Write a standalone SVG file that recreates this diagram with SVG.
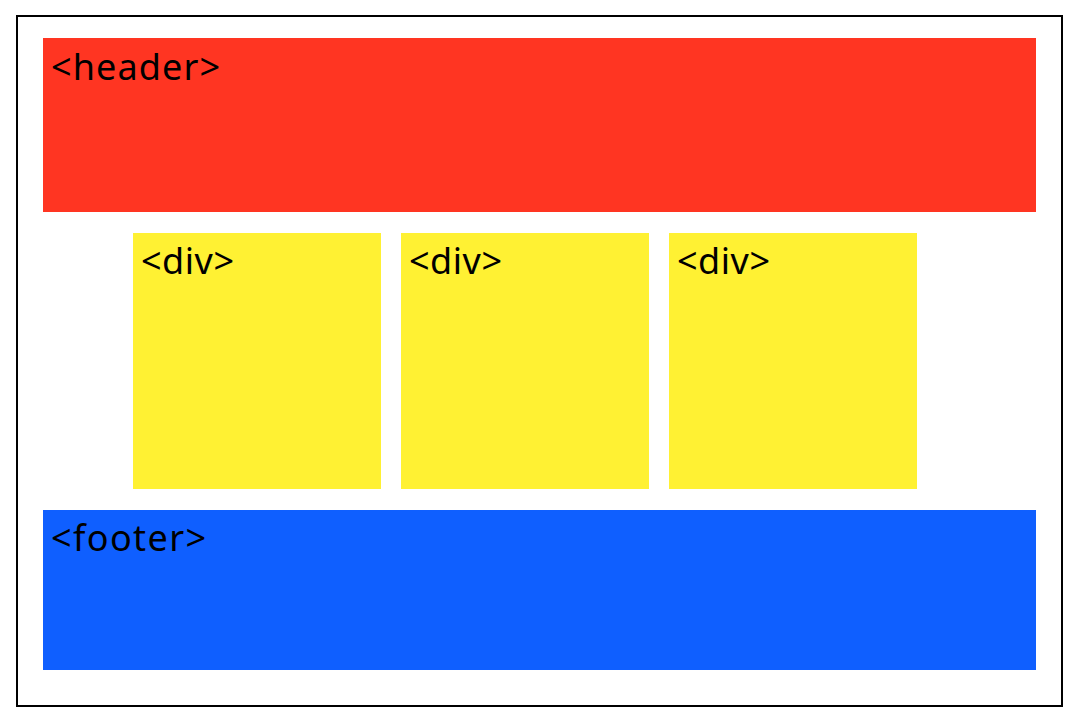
<svg xmlns="http://www.w3.org/2000/svg" width="1078" height="724" viewBox="0 0 1078 724">
<style>
.lbl{font-family:"Noto Sans","Noto Sans CJK JP",sans-serif;font-size:36px;fill:#000}
.div{fill:#FFF133}
</style>
<rect x="0" y="0" width="1078" height="724" fill="#fff"/>
<g id="page"><rect x="17" y="16" width="1045" height="690" fill="#fff" stroke="#000" stroke-width="2"/></g>
<g id="header"><rect x="43" y="38" width="993" height="174" fill="#FF3522"/><text class="lbl" x="51" y="80" textLength="169" lengthAdjust="spacing">&lt;header&gt;</text></g>
<g id="div1"><rect class="div" x="133" y="233" width="248" height="256"/><text class="lbl" x="141" y="274" textLength="93" lengthAdjust="spacing">&lt;div&gt;</text></g>
<g id="div2"><rect class="div" x="401" y="233" width="248" height="256"/><text class="lbl" x="409" y="274" textLength="93" lengthAdjust="spacing">&lt;div&gt;</text></g>
<g id="div3"><rect class="div" x="669" y="233" width="248" height="256"/><text class="lbl" x="677" y="274" textLength="93" lengthAdjust="spacing">&lt;div&gt;</text></g>
<g id="footer"><rect x="43" y="510" width="993" height="160" fill="#0F5FFF"/><text class="lbl" x="51" y="551" textLength="155" lengthAdjust="spacing">&lt;footer&gt;</text></g>
<g id="connectors"/>
</svg>
